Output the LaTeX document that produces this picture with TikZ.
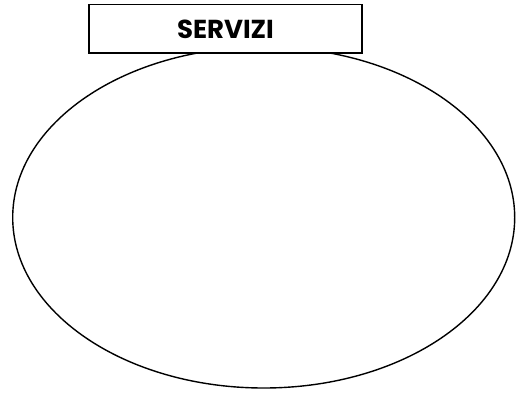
\documentclass[tikz,border=0pt]{standalone}
\usepackage{fontspec}
\usetikzlibrary{shapes.geometric}
\newfontfamily\titlefont{Poppins}
\begin{document}
\begin{tikzpicture}[x=1pt,y=1pt,
  outline/.style={draw=black,line width=1.4pt},
  titlebox/.style={outline,fill=white,minimum width=273pt,minimum height=48.3pt,inner sep=0pt,
    font=\titlefont\bfseries\fontsize{26}{30}\selectfont}]
\useasboundingbox (0,0) rectangle (519,392);
\node[outline,ellipse,minimum width=502pt,minimum height=341pt,inner sep=0pt] (circle) at (263.7,174.5) {};
\node[titlebox] (title) at (225.5,363.15) {\raisebox{-3.5pt}{SERVIZI}};
\end{tikzpicture}
\end{document}
